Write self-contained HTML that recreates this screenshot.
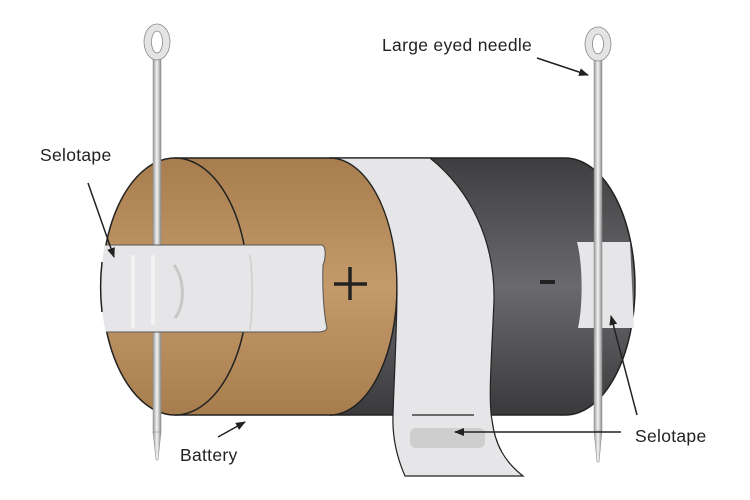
<!DOCTYPE html>
<html><head><style>html,body{margin:0;padding:0;background:#fff}svg{display:block}</style></head>
<body>
<svg width="750" height="500" viewBox="0 0 750 500" xmlns="http://www.w3.org/2000/svg" font-family="Liberation Sans, sans-serif">
<defs>
<linearGradient id="br" x1="0" y1="0" x2="0" y2="1">
<stop offset="0" stop-color="#a87d4e"/><stop offset="0.5" stop-color="#c49a6a"/><stop offset="1" stop-color="#a87d4e"/></linearGradient>
<linearGradient id="dk" x1="0" y1="0" x2="0" y2="1">
<stop offset="0" stop-color="#3e3e40"/><stop offset="0.5" stop-color="#6a6a6e"/><stop offset="1" stop-color="#3a3a3c"/></linearGradient>
<linearGradient id="nd" x1="0" y1="0" x2="1" y2="0">
<stop offset="0" stop-color="#9a9a9a"/><stop offset="0.5" stop-color="#f4f4f4"/><stop offset="1" stop-color="#8a8a8a"/></linearGradient>
<marker id="ar" markerWidth="10" markerHeight="8" refX="9" refY="4" orient="auto" markerUnits="userSpaceOnUse"><path d="M0,0 L10,4 L0,8 z" fill="#222"/></marker>
<clipPath id="lc"><ellipse cx="175" cy="286.5" rx="74" ry="129"/><rect x="175" y="150" width="200" height="280"/></clipPath>
</defs>
<path d="M330,158 L565,158 A70,128.5 0 0 1 565,415 L330,415 Z" fill="url(#dk)" stroke="#222" stroke-width="1.5"/>
<path d="M175,158 L330,158 A67,128.5 0 0 1 330,415 L175,415 Z" fill="url(#br)" stroke="#222" stroke-width="1.5"/>
<ellipse cx="175" cy="286.5" rx="73" ry="128.5" fill="url(#br)" stroke="#222" stroke-width="1.5"/>
<path d="M330,158 L430,158 C470,190 495,240 494,300 C492,350 488,400 492,420 C495,445 505,462 523,476 L405,476 C398,460 392,440 393,415 C394,380 397,330 397,286 A67,128.5 0 0 0 330,158 Z" fill="#e6e6e8" stroke="#222" stroke-width="1.2"/>
<line x1="412" y1="415" x2="474" y2="415" stroke="#222" stroke-width="1.2"/>
<rect x="410" y="428" width="75" height="20" rx="6" fill="#c8c8c8" opacity="0.8"/>
<path d="M577,242 L630,242 L634,328 L578,328 C583,305 583,265 577,242 Z" fill="#e6e6e8"/>
<rect x="153" y="58" width="8" height="375" fill="url(#nd)" stroke="#888" stroke-width="0.5"/>
<path d="M153,432 L161,432 L158,460 L156,460 Z" fill="url(#nd)" stroke="#888" stroke-width="0.5"/>
<path fill-rule="evenodd" d="M157,24 a13,18 0 1 0 0.01,0 Z M157,31 a5.5,11 0 1 0 0.01,0 Z" fill="#e4e4e4" stroke="#888" stroke-width="0.8"/>
<rect x="594" y="60" width="8" height="372" fill="url(#nd)" stroke="#888" stroke-width="0.5"/>
<path d="M594,431 L602,431 L599,462 L597,462 Z" fill="url(#nd)" stroke="#888" stroke-width="0.5"/>
<path fill-rule="evenodd" d="M598,27 a13,17 0 1 0 0.01,0 Z M598,34 a5.5,10 0 1 0 0.01,0 Z" fill="#e4e4e4" stroke="#888" stroke-width="0.8"/>
<g clip-path="url(#lc)">
<path d="M95,245 L322,245 C326,246 326,258 323,265 C322,290 324,315 327,328 C326,332 320,332 315,332 L95,332 Z" fill="#e6e6e8" stroke="#555" stroke-width="1"/>
</g>
<path d="M102,262 A73,128.5 0 0 0 102,312" fill="none" stroke="#222" stroke-width="1.5"/>
<path d="M174,265 C185,280 185,305 175,318" fill="none" stroke="#c8c8c8" stroke-width="3"/>
<path d="M133,255 L133,328 M153,255 L153,325" stroke="#f4f4f4" stroke-width="4" opacity="0.8"/>
<path d="M250,255 C253,280 253,305 250,330" stroke="#cfcfcf" stroke-width="1.5" fill="none"/>
<path d="M350,267 L350,300 M334,284 L367,284" stroke="#222" stroke-width="3.5"/>
<rect x="540" y="280" width="15" height="4" fill="#222"/>
<g font-size="17.5" fill="#222" letter-spacing="0.3">
<text x="40" y="161">Selotape</text>
<text x="382" y="51">Large eyed needle</text>
<text x="180" y="461">Battery</text>
<text x="635" y="442">Selotape</text>
</g>
<g stroke="#222" stroke-width="1.5" fill="none" marker-end="url(#ar)">
<line x1="88" y1="183" x2="114" y2="257"/>
<line x1="537" y1="58" x2="588" y2="75"/>
<line x1="218" y1="437" x2="245" y2="422"/>
<line x1="621" y1="432" x2="455" y2="432"/>
<line x1="637" y1="415" x2="611" y2="316"/>
</g>
</svg>
</body></html>
